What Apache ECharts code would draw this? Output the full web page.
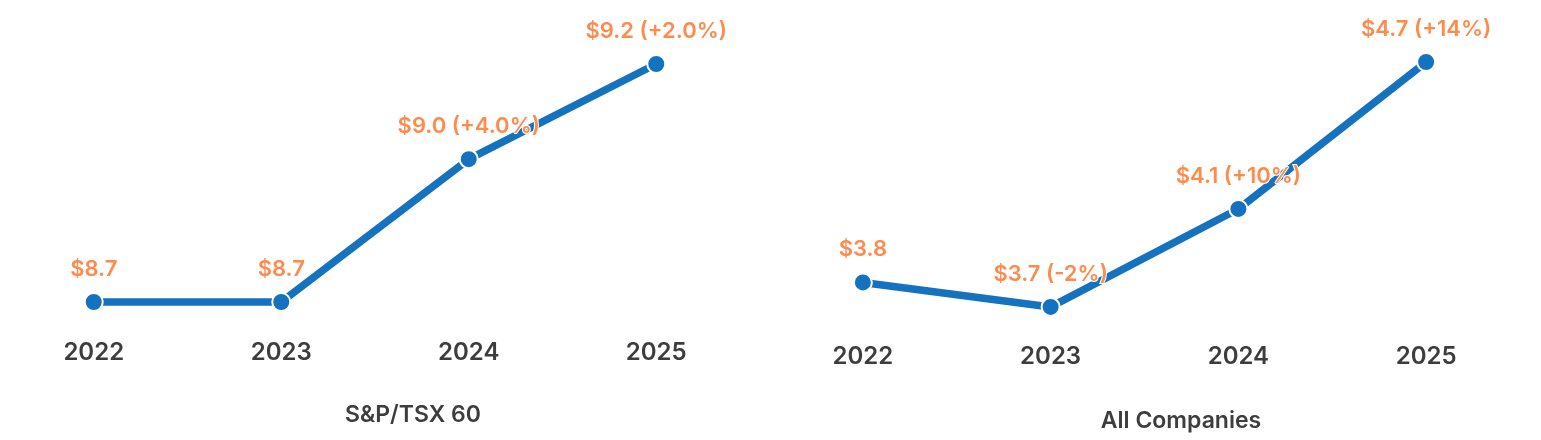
<!DOCTYPE html>
<html><head><meta charset="utf-8">
<script src="https://cdn.jsdelivr.net/npm/echarts@6/dist/echarts.min.js"></script>
<style>html,body{margin:0;padding:0;background:#fff}#c{width:1541px;height:440px}</style>
</head><body><div id="c"></div>
<script>
const years = ['2022', '2023', '2024', '2025'];
const tsxValues = [8.7, 8.7, 9.0, 9.2];
const tsxLabels = ['$8.7', '$8.7', '$9.0 (+4.0%)', '$9.2 (+2.0%)'];
const allValues = [3.8, 3.7, 4.1, 4.7];
const allLabels = ['$3.8', '$3.7 (-2%)', '$4.1 (+10%)', '$4.7 (+14%)'];
const titles = ['S&P/TSX 60', 'All Companies'];

const FONT = 'Inter';
const BLUE = '#1472BF';
const ORANGE = '#FF8A4C';
const DARK = '#3d3d3d';

function xAx(i) {
  return {
    type: 'category', gridIndex: i, data: years, boundaryGap: true,
    axisLine: {show: false}, axisTick: {show: false}, splitLine: {show: false},
    axisLabel: {margin: 5, fontFamily: FONT, fontWeight: 600, fontSize: 24, color: DARK}
  };
}
function yAx(i, min, max) {
  return {type: 'value', gridIndex: i, min: min, max: max, show: false, splitLine: {show: false}};
}
function ser(i, vals, labels) {
  return {
    type: 'line', xAxisIndex: i, yAxisIndex: i, data: vals,
    symbol: 'circle', symbolSize: 18,
    lineStyle: {color: BLUE, width: 7.5},
    itemStyle: {color: BLUE, borderColor: '#fff', borderWidth: 2},
    label: {
      show: true, position: 'top', distance: 12,
      formatter: p => labels[p.dataIndex],
      fontFamily: FONT, fontWeight: 600, fontSize: 22, color: ORANGE,
      textBorderColor: '#fff', textBorderWidth: 2
    },
    emphasis: {disabled: true}, animation: false
  };
}
const chart = echarts.init(document.getElementById('c'));
chart.setOption({
  animation: false,
  title: [
    {text: titles[0], left: 408, top: 399, textAlign: 'center',
     textStyle: {fontFamily: FONT, fontWeight: 600, fontSize: 23, color: DARK}},
    {text: titles[1], left: 1176, top: 405, textAlign: 'center',
     textStyle: {fontFamily: FONT, fontWeight: 600, fontSize: 23, color: DARK}}
  ],
  grid: [
    {left: 0, width: 750, top: 16.4, bottom: 104.7},
    {left: 769, width: 751, top: 37.5, bottom: 100.5}
  ],
  xAxis: [xAx(0), xAx(1)],
  yAxis: [yAx(0, 8.63, 9.3), yAx(1, 3.567, 4.8)],
  series: [ser(0, tsxValues, tsxLabels), ser(1, allValues, allLabels)]
});
</script></body></html>
